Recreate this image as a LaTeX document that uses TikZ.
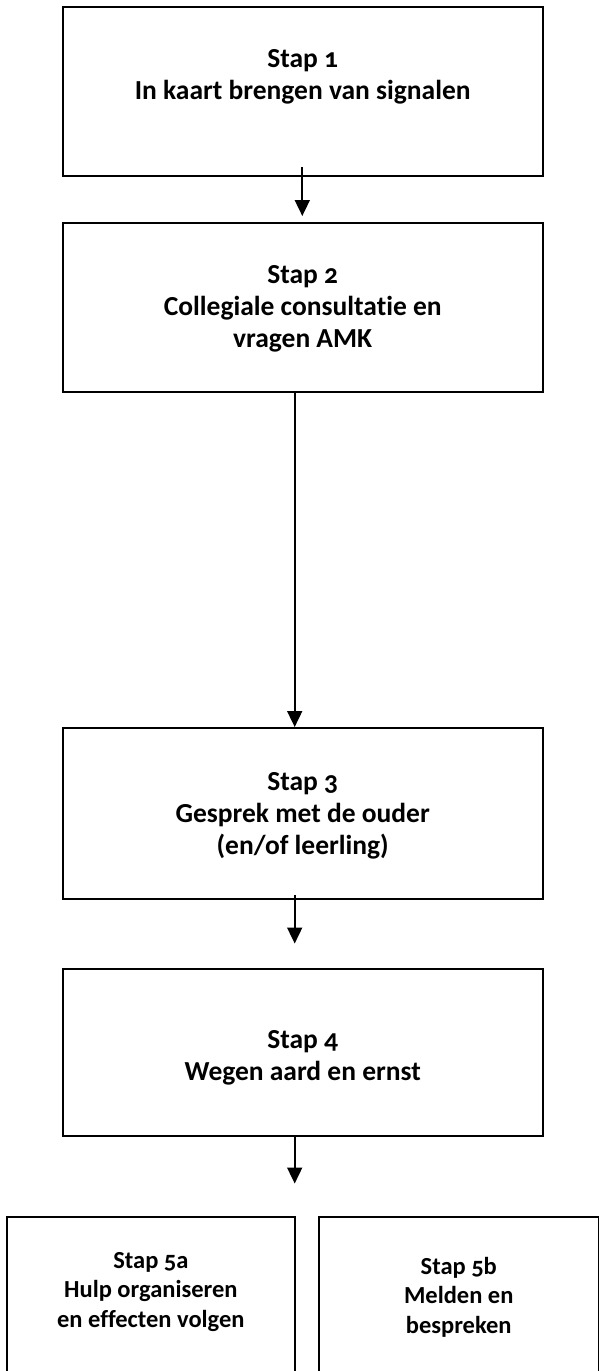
\documentclass[tikz,border=0pt]{standalone}
\usepackage{fontspec}
\setmainfont{Carlito}[Numbers=OldStyle, Ligatures=NoCommon]
\usetikzlibrary{arrows.meta}
\tikzset{
  stepbox/.style={draw=black, line width=1.8pt, fill=none},
  steptext/.style={anchor=base, align=center, inner sep=0pt, font=\fontsize{27.5}{32}\selectfont\bfseries},
  smalltext/.style={anchor=base, align=center, inner sep=0pt, font=\fontsize{24.5}{29.5}\selectfont\bfseries},
  flow/.style={line width=1.8pt, -{Triangle[width=15pt,length=16pt]}}
}
\begin{document}
\begin{tikzpicture}[x=1pt,y=-1pt]
\useasboundingbox (0,0) rectangle (601,1371);
\clip (0,0) rectangle (601,1371);
% boxes
\node[stepbox, minimum width=480pt, minimum height=168.4pt, inner sep=0pt] (b1) at (302.7,91.5) {};
\node[stepbox, minimum width=480pt, minimum height=168.4pt, inner sep=0pt] (b2) at (302.7,307.5) {};
\node[stepbox, minimum width=480pt, minimum height=170.7pt, inner sep=0pt] (b3) at (302.7,813.7) {};
\node[stepbox, minimum width=480pt, minimum height=167pt, inner sep=0pt] (b4) at (302.7,1052.5) {};
\node[stepbox, minimum width=288.3pt, minimum height=200pt, inner sep=0pt] (b5a) at (150.85,1317) {};
\node[stepbox, minimum width=279.5pt, minimum height=200pt, inner sep=0pt] (b5b) at (458.75,1317) {};
% texts (anchor at baseline of last line)
\node[steptext] (t1) at (302.7,99) {Stap 1\\In kaart brengen van signalen};
\node[steptext] (t2) at (302.7,347) {Stap 2\\Collegiale consultatie en\\vragen AMK};
\node[steptext] (t3) at (302.7,854) {Stap 3\\Gesprek met de ouder\\(en/of leerling)};
\node[steptext] (t4) at (302.7,1080) {Stap 4\\Wegen aard en ernst};
\node[smalltext] (t5a) at (150.85,1327) {Stap 5a\\Hulp organiseren\\en effecten volgen};
\node[smalltext] (t5b) at (458.75,1333) {Stap 5b\\Melden en\\bespreken};
% arrow end points
\coordinate (a1s) at (302.3,167);
\coordinate (a1e) at (302.3,216);
\coordinate (a2s) at (294.7,391.7);
\coordinate (a2e) at (294.7,727);
\coordinate (a3s) at (294.7,895);
\coordinate (a3e) at (294.7,943.5);
\coordinate (a4s) at (294.7,1136);
\coordinate (a4e) at (294.7,1183.5);
\draw[flow] (a1s) -- (a1e);
\draw[flow] (a2s) -- (a2e);
\draw[flow] (a3s) -- (a3e);
\draw[flow] (a4s) -- (a4e);
\end{tikzpicture}
\end{document}
